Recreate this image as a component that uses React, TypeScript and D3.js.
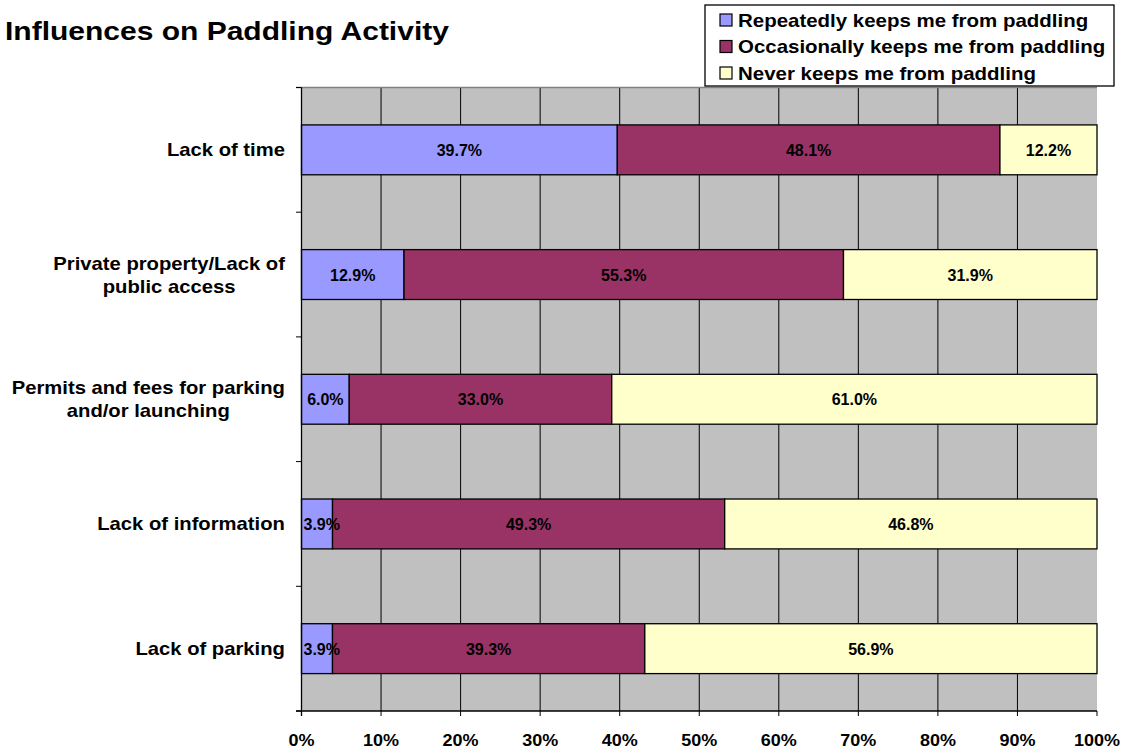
import React from "react";
import * as d3 from "d3";

const categories = [
  "Lack of time",
  "Private property/Lack of public access",
  "Permits and fees for parking and/or launching",
  "Lack of information",
  "Lack of parking",
];
const categoryLines = [
  ["Lack of time"],
  ["Private property/Lack of", "public access"],
  ["Permits and fees for parking", "and/or launching"],
  ["Lack of information"],
  ["Lack of parking"],
];
const seriesNames = [
  "Repeatedly keeps me from paddling",
  "Occasionally keeps me from paddling",
  "Never keeps me from paddling",
];
const repeatedly = [39.7, 12.9, 6.0, 3.9, 3.9];
const occasionally = [48.1, 55.3, 33.0, 49.3, 39.3];
const never = [12.2, 31.9, 61.0, 46.8, 56.9];
const colors = ["#9999FF", "#993366", "#FFFFCC"];
const xTicks = [0, 0.1, 0.2, 0.3, 0.4, 0.5, 0.6, 0.7, 0.8, 0.9, 1.0];

const FONT = "'Liberation Sans', Arial, Helvetica, sans-serif";

let ctx: CanvasRenderingContext2D | null = null;
function measure(text: string, size: number) {
  if (!ctx) ctx = document.createElement("canvas").getContext("2d");
  if (!ctx) return text.length * size * 0.6;
  ctx.font = `bold ${size}px ${FONT}`;
  return ctx.measureText(text).width;
}

export default function App() {
  const W = 1128, H = 753;
  const left = 301.5, right = 1097, top = 87.5, bottom = 711;
  const x = d3.scaleLinear().domain([0, 1]).range([left, right]);
  const y = d3.scaleBand<string>().domain(categories).range([top, bottom]).paddingInner(0.6).paddingOuter(0.3);
  const band = (bottom - top) / categories.length;

  const rows = categories.map((c, i) => ({
    cat: c,
    vals: [repeatedly[i], occasionally[i], never[i]],
  }));
  const stackGen = d3.stack<any>().keys(["0", "1", "2"]).value((d, k) => d.vals[+k]).offset(d3.stackOffsetExpand);
  const stacked = stackGen(rows as any);

  const labelRight = 285;
  const labelSize = 18, labelSx = 1.125, lineH = 23;
  const dataSize = 16;

  return (
    <svg width={W} height={H} style={{ position: "absolute", left: 0, top: 0, background: "#fff" }} fontFamily={FONT}>
      <rect x={left} y={top} width={right - left} height={bottom - top} fill="#C0C0C0" />
      {xTicks.slice(1, -1).map((t) => (
        <line key={t} x1={x(t)} x2={x(t)} y1={top} y2={bottom} stroke="#000" strokeWidth={1} />
      ))}
      <line x1={296} x2={right} y1={top} y2={top} stroke="#808080" strokeWidth={1.5} />
      {stacked.map((s, si) =>
        s.map((d: any, i: number) => (
          <rect
            key={`${si}-${i}`}
            x={x(d[0])}
            y={y(categories[i])}
            width={x(d[1]) - x(d[0])}
            height={y.bandwidth()}
            fill={colors[si]}
            stroke="#000"
            strokeWidth={1.3}
          />
        ))
      )}
      {stacked.map((s, si) =>
        s.map((d: any, i: number) => {
          const label = rows[i].vals[si].toFixed(1) + "%";
          const w = measure(label, dataSize);
          let cx = (x(d[0]) + x(d[1])) / 2;
          cx = Math.max(cx, left + w / 2 + 2);
          const cy = (y(categories[i]) as number) + y.bandwidth() / 2 + 6;
          return (
            <text key={`l${si}-${i}`} x={cx} y={cy} textAnchor="middle" fontSize={dataSize} fontWeight="bold" fill="#000">
              {label}
            </text>
          );
        })
      )}
      <line x1={left} x2={left} y1={top} y2={bottom + 5} stroke="#000" strokeWidth={1.3} />
      <line x1={296} x2={right} y1={bottom} y2={bottom} stroke="#000" strokeWidth={1.3} />
      {d3.range(categories.length + 1).map((k) => (
        <line key={`yt${k}`} x1={296} x2={left} y1={top + k * band} y2={top + k * band} stroke="#000" strokeWidth={1} />
      ))}
      {xTicks.map((t) => (
        <line key={`xt${t}`} x1={x(t)} x2={x(t)} y1={bottom} y2={bottom + 5} stroke="#000" strokeWidth={1} />
      ))}
      {xTicks.map((t) => (
        <text
          key={`xl${t}`}
          transform={`translate(${x(t)},746) scale(1.06,1)`}
          textAnchor="middle"
          fontSize={17}
          fontWeight="bold"
        >
          {d3.format(".0%")(t)}
        </text>
      ))}
      {categoryLines.map((lines, i) => {
        const cy = (y(categories[i]) as number) + y.bandwidth() / 2;
        const widths = lines.map((l) => measure(l, labelSize) * labelSx);
        const maxW = Math.max(...widths);
        const n = lines.length;
        return lines.map((l, j) => {
          const by = cy + 6.5 + (j - (n - 1) / 2) * lineH;
          const cx = labelRight - maxW / 2;
          return (
            <text
              key={`c${i}-${j}`}
              transform={`translate(${cx},${by}) scale(${labelSx},1)`}
              textAnchor="middle"
              fontSize={labelSize}
              fontWeight="bold"
            >
              {l}
            </text>
          );
        });
      })}
      <text transform="translate(5,40) scale(1.2,1)" fontSize={25} fontWeight="bold">
        Influences on Paddling Activity
      </text>
      <rect x={705} y={5} width={409} height={81} fill="#fff" stroke="#000" strokeWidth={1.3} />
      {seriesNames.map((n, i) => (
        <g key={n}>
          <rect x={720} y={14 + i * 26.5} width={12} height={12} fill={colors[i]} stroke="#000" strokeWidth={1.2} />
          <text transform={`translate(738,${26.5 + i * 26.5}) scale(1.17,1)`} fontSize={17.5} fontWeight="bold">
            {n}
          </text>
        </g>
      ))}
    </svg>
  );
}
